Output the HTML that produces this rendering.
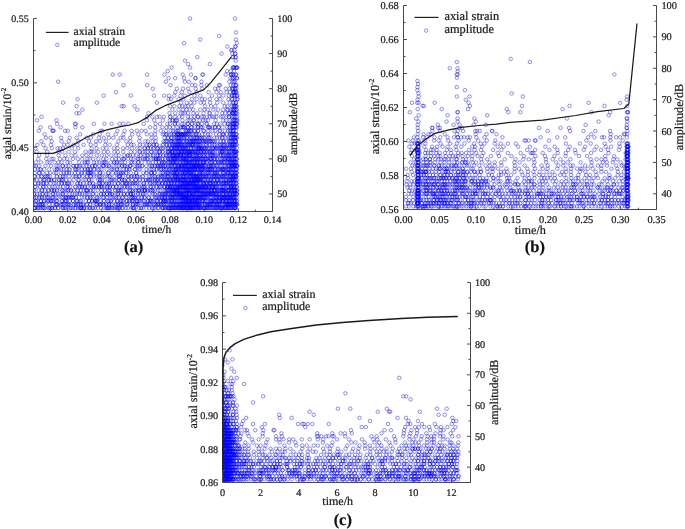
<!DOCTYPE html>
<html><head><meta charset="utf-8"><style>
html,body{margin:0;padding:0;background:#fff;width:685px;height:529px;overflow:hidden}
svg{display:block;will-change:transform}
text{font-family:"Liberation Serif",serif;fill:#1a1a1a;stroke:#1a1a1a;stroke-width:0.22px;text-rendering:geometricPrecision}
.pl{font-weight:bold;fill:#111}
</style></head><body>
<svg width="685" height="529" viewBox="0 0 685 529">
<defs><marker id="c" markerUnits="userSpaceOnUse" markerWidth="6" markerHeight="6" refX="3" refY="3" overflow="visible"><circle cx="3" cy="3" r="1.75" fill="none" stroke="#0000ff" stroke-opacity=".55" stroke-width="0.8"/></marker></defs>
<clipPath id="kA"><rect x="33.5" y="14.5" width="239.0" height="197.0"/></clipPath>
<path d="M190 18.5h45M235.9 32.5M219.2 36M200.2 39.6h35.7M184 43.1h52.8M227.3 46.6h7.9h.4M231.3 50.1h.4h2.7M221.5 53.6h10.8h2.9h.1M197.3 57.1h35.4h.2h2.5h.4M185 60.6h50.6M188.1 64.1h21.7M171.5 67.6h18.5h42.8h.2h1.1h.1h1.8h.1h.9h.2M167.7 71.1h59.4h3.4h3.5M112.8 74.6h6.9h27.4h17.4h18.2h8.3h11.5h.4h22.8h5.2h.4h.3h1.6h.2h2.5h.3M168.6 78.2h6.5h9h11.3h.2h34.7h2.2h.3h1.9h2.2h.1M58.1 81.7h107.7h19h4h12.6h27.9h3.5h1.6h0M123.5 85.2h23.7h23.3h21.5h3.3h6.1h5.6h12.1h.8h10.9h2.4h2.5h.1h.6M152.8 88.7h24.1h6.1h5.1h7.6h6.5h13h3h7.5h3.8h2.6h.9h.1h1.8h.2h1.3M116 92.2h59.3h6.5h7.6h7.3h11.8h8h4.3h5.8h3.3h3.1h.9h.2h.7h.7h.6h.3M103.6 95.7h27.2h23.2h10.2h4.7h5.4h6.2h4.4h9.7h5.7h11.8h7h4.2h5.6h3h.2h1.8h.3h1.2h1.5h.4M77.5 99.2h91.2h2.4h7.6h4.5h8.6h5h5.1h2.9h5h6.7h3.6h8.2h3.6h.4h2.6h2.3h.3M63.1 102.7h33.8h59.9h24.2h5.8h3.8h3.8h6.2h3.3h6.2h7.1h6.1h6.4h3.2h1.2h1.9h0M76.6 106.2h45.1h2h10.8h35.6h4.3h5h2.9h3.3h2.2h3.9h13.2h6.1h4.2h9.5h2.7h4.3h2h.2h.9h.9h0h1M82.4 109.7h54.8h35.1h6.3h4.3h3.4h3.5h3.5h7h4.2h3.2h5.7h4.7h4.9h4.3h.2h3.2h1.8h.2h1.1h.7h.2h1.8h0M76.5 113.2h2.7h69.3h21h5.7h5.6h1.9h2.2h3h5.5h3.8h6.2h6.2h.1h6.9h5.6h3h4h.1h3.1h.2h.1h.1h1.3h.4h1.1h.3h1.2M41.5 116.8h105.5h5.4h4.7h2.5h4.2h6.4h.2h4.7h4.1h3.1h5.7h2.7h3.6h3.4h.2h3.9h1.7h3.2h3.1h2.3h1.8h2.4h4.5h1.8h3.8h2.5h.1h3h1.3h1.2h1.2h1.3M37 120.3h19.5h90.4h7.3h8.7h7h2.6h.2h2.5h1.2h.4h5.6h5.2h2.1h4h.1h5.7h3.7h2.2h2.6h7.6h7.6h2.7h4.4h2.1h1h1.2h.3h.9h1.1h.3M57 123.8h18h.8h18h10.6h7.2h8h3.7h5.1h15.3h11.9h4.4h7.3h2.7h4.8h.1h3h4.4h1.8h3.6h.1h4.1h0h4.5h1.6h.1h3.7h4.8h0h7.6h2.7h3.5h4.1h3.3h.3h1.7h2.4h.1h.8h.1h.7h.4h1.2h.2h1.3h0M40.5 127.3h9.6h10.5h14.8h6.9h67.8h5h7.2h4.1h3.3h3.4h4.3h3.4h.4h1.7h0h1.3h.2h3.3h.3h3.2h.2h3.4h3.1h.2h2.8h.1h1.5h5.7h.2h1.2h.2h2.5h2.6h.3h3.3h.2h3.7h4.9h2.2h.3h2.5h.5h.2h.9h.4h1.4h.2h.9M38.9 130.8h13.6h.3h.9h11.4h2.6h32.9h1.7h15.1h7.2h7h5.2h4.8h3.9h9.9h5.5h5.1h4.7h2.4h2.7h1.7h.3h1.5h6.3h.4h1.3h.2h1.7h.3h1.4h.3h3.2h.2h3.4h.2h5.3h.3h4.2h4.5h2.5h4.7h.3h4.8h3.3h1.9h.4h1.9h.7h.1h1h2.1M44.5 134.3h35.6h13.1h6.5h8.3h7.8h7.6h8.7h6.2h8.6h4.4h3.6h7.9h1.5h2.1h.1h2.8h1.9h2.6h.2h1.5h1.6h.2h.7h.1h1.1h.1h1.7h.2h.3h.2h1.1h.2h.6h.1h1.1h.3h1.1h1.3h.3h1.6h0h2.1h1.9h2.2h.8h.3h2.1h3.4h3.1h2.8h2.3h5.7h3.4h3.2h.2h.9h2.9h3.3h.2h1.4h.3h1h.9h.3h1.3h1h.1M45.9 137.8h4.6h10.6h8.5h7.1h10h4.1h8.1h4.8h5.3h4.3h7.3h2.8h6.7h9.6h11.8h4.1h8.9h3.3h.3h3.2h.4h2.5h2.1h.4h1.1h.3h.8h.3h1.5h.9h1.8h.2h1.1h1.9h.4h3.5h.3h1.5h1.3h1.7h1.3h.5h.2h2.2h.1h1.9h0h2h1.4h3.5h.3h1.5h4.2h2.5h2.8h2.5h0h3.6h2.4h1.8h1.2h.3h1.6h.2h1.1h.3h.4h.3h1.1h.1M41.4 141.3h10.2h10h7.2h9.6h10.6h7h4.2h5.6h12.5h8.1h3.9h9h6.1h2.4h4.8h2.9h8.1h2.1h.1h1.3h3.4h.3h.5h.9h1.6h1.6h1.1h1.3h.3h1.2h.1h.5h.7h2h1.6h1.9h.7h.3h1.5h1h1h1.3h0h1h.3h.9h.3h1.4h.1h1.7h.1h1.3h.8h.1h2h1.4h0h1.5h.2h1.5h.2h2.3h.3h1.5h.1h1.8h.3h1.6h2.9h3.1h2.9h.1h2.6h3.5h0h1.3h.2h1.1h1.9h1.2h0h.3h.3M37.3 144.8h6h7.7h13.1h3.4h6.2h3.7h6.2h7.1h5h9.6h4.4h7.3h10.9h3.4h2.4h6.4h2.7h4.4h2.2h.1h4h.4h2.6h.2h5.9h.6h3.5h.2h2.4h.2h2.8h.4h1.3h.3h.9h.4h1h.2h1.2h0h.9h.9h.2h1.1h.2h1h.2h1.6h.4h1.3h1.4h.2h.5h1.2h.3h.8h1.2h.4h.7h0h.7h.1h2h.4h1.5h1.2h.2h1.1h.4h1h3.5h1.5h.2h3.2h.4h2.3h2.2h.3h2.1h2.6h1h.3h1.7h1.2h.4h1.5h2.2h.1h2.2h0h1.8h.3h.1h.3h1.1h.4h.7h.3h1.3h.3M35.5 148.3h10.1h6.2h5.8h2.6h2.8h8.8h6.4h13.3h5.2h6.1h3.8h7.3h3.6h5.6h4h4.8h5.4h2.4h5h0h3.1h.2h2.6h2.8h.3h3.8h.2h2h1.5h1.5h3h1.9h.3h3h.2h.8h.3h2h.4h.6h.9h.2h.6h.1h1.2h1.3h.3h.6h.1h1.8h.3h.9h.3h1.2h.2h.4h.1h1h1.2h2.8h.5h.3h1.6h1h1.5h1.7h1h.1h.2h.2h.3h.2h1.2h0h1.1h0h1.1h1.2h.3h1h.1h1.9h1.6h.4h2.1h1.6h.4h1.3h1.3h.4h.7h.8h2.5h.3h1.2h.3h1.4h0h.6h1.8h0h1.5h.3h1.7h2h.4h.7h0h.9h.2h.9h2.3M36.6 151.8h10.6h11.3h3.8h6.2h6.5h10.6h4.1h1.8h2.5h4.3h5.7h3.9h6.4h3.6h5.2h7.6h4h4.8h.4h3.1h1.9h2.7h3.6h0h4.1h1.5h2.6h.3h2.9h.3h4.9h.2h.4h1.1h.2h2.1h.4h0h.3h.7h1.3h1h1.6h1h.7h0h1.2h1h0h.9h.2h.4h1.5h.4h1.1h.4h1h.4h.3h.6h.4h.2h.2h1h.2h.5h1h.2h1.1h.1h1.4h.2h1h0h1.2h1.1h.1h1.4h1.3h.1h1h1.6h.5h.1h1.8h1.4h.1h1.6h1h.4h1.3h1h0h1.6h3.6h2.2h.2h1.6h.2h.1h.4h1.4h2.2h.8h1.4h.7h.4h.8h1.4h2.2h.2h.5h.4h0h.4h.6h.2h.6M39.1 155.4h8h11.6h6.7h6.2h3.8h6.9h4h4.4h6.1h5h4.9h4.5h4.7h2.8h5.7h3.2h.3h2h3.2h3.4h4.1h.3h4.3h2.2h.1h3.1h2.5h.2h4.3h.2h2h.3h3.4h2.4h.2h1.5h2h.4h1.8h.4h.7h.1h.7h.3h.9h1.3h.1h.6h.1h.8h.4h.4h1.3h.3h.3h0h1h2h.3h0h.1h1.5h.3h1h1.6h.2h.6h.1h.6h0h.8h.1h2.3h1.6h.8h.3h1h.1h1.5h.8h1.2h.2h2h1.1h.2h1.7h2h.2h2.6h.3h1.1h.3h1.4h.1h1.8h.8h1.9h2.3h.2h.8h1.8h.2h1.8h1.4h.3h1.4h.2h1.1h.4h1.4h.6h1.6h.8h.4h1h0h.5M38.3 158.9h8h5.2h1.9h6.5h4.3h2.9h5.9h4.8h4.5h5.1h2.1h3.7h5.1h5h3.1h5.7h3.8h2.9h3.7h1.3h0h4.2h3.2h2.2h4.4h.1h1.7h3.5h1.5h.3h2.2h.3h3.9h2.1h2.2h.3h.2h.4h1.4h.3h1.7h2.4h.2h2.7h2.8h.1h1h.9h.6h0h2.4h.2h.7h.4h.3h.2h.4h.2h1.2h.2h1.6h.8h.9h.7h.6h1.4h.4h.2h.8h.2h.2h.3h.8h0h.3h.3h1h2.5h.2h1.3h.3h.6h.8h.8h.4h1h.4h.9h0h1h.5h1.1h.3h1.1h.3h.8h0h1.5h1.5h.8h.2h.8h.3h1.2h2.1h.1h.9h.2h.8h2.3h.2h.9h1.9h0h3.1h1.7h1.5h0h1.2h.1h1.3h1.7h.1h1h.3h1h.3h1.5h.2h1.1h.2h1.5h.5h1h.3M36 162.4h5h6.5h2.1h5h3.8h3.2h6h2.3h9.2h5.5h.4h1.9h1.1h6h2.5h3.1h2.8h1.9h.4h1.4h4.4h3.7h.1h2.5h0h2.9h1.7h3.7h5.8h1.3h2.4h3.5h.2h3.5h6.3h1h3.9h2.7h3.2h.2h2.9h.1h1.6h.1h1.6h2.8h0h1.5h1h1.2h.9h0h.9h.2h1.6h.2h1h1.7h1.7h.3h1.2h1.7h.2h1.1h1.1h.1h.5h.8h.6h.8h.2h.5h.3h.5h.4h1.4h.5h1.5h.4h.9h1.4h.1h.3h.2h1.2h.2h1.8h.1h2.5h.1h.9h.2h.7h1.4h.8h3.3h0h1.2h.3h2.8h.4h.6h2.7h.5h1.3h.2h1.2h.2h1.7h.9h.1h2.4h1.2h0h1.4h.8h.3h1.1h.1h1h.8h.2h.8h.7h.1h.9h.2M33.8 165.9h2.1h2.8h6.7h5.6h5.6h1.9h4.1h.2h3.3h2.3h4.9h.1h3h.3h2.6h1.2h2.3h4.2h2h3.4h.2h2.5h.1h4h3.7h.5h.2h3.3h1.8h.3h4.6h3h2.1h3.2h.3h2.5h.1h2h3h.5h.4h4.5h2.2h.2h2h2.6h.1h3.9h4h1.7h.3h2.7h0h2.3h1.3h.1h1.4h.9h.3h1.8h.4h1.8h.2h2.8h.1h2.1h0h1.1h.7h1.6h1.3h.1h1.5h1.3h0h.6h.3h1.3h.8h.5h.1h.3h0h.6h.3h1.1h.9h.4h.4h.7h.3h.4h.7h.7h.1h2.3h.1h.9h.3h.5h.3h.2h.5h.4h.3h.3h.7h.2h.7h.3h.1h.4h.6h.5h1.2h0h.7h.1h.8h.3h.2h.7h.2h.9h1h1.1h.9h2.3h.3h.7h1h.8h0h1.7h.2h1.5h2.1h.1h1.4h2.5h1.8h2h.1h2h1.6h.1h.5h.3h1.6h.8h.1h.7h.1h.1h.2h.7h.2h.7h.2h.5h.2h1.3h.2h.3h.1M35 169.4h3.2h2.2h.3h3.4h5h5.6h2.1h.1h1.7h2.7h2.5h2.7h2.8h.3h5.7h.1h1.3h1.7h3.4h3.1h.3h2.6h.1h2.2h.1h3.8h.4h3.4h1.7h2.1h5h5h0h1.8h3.5h.2h2.4h4.2h2.7h.4h2.5h.2h5.3h.3h3.9h1.2h6.2h3.2h1.9h2.3h2.9h0h2.6h1.7h.2h2.6h.2h1.8h.1h2.8h1h.2h1.3h1h1.7h1.5h.1h.4h.2h.6h.3h1.1h.1h1.1h1.7h0h.6h.3h.8h.8h1h.9h.7h.2h0h.4h.9h.1h1.1h.1h1.1h.3h.5h.3h.9h.9h.2h.9h.6h.3h0h.4h1.6h.2h.7h.1h.7h1.8h.3h.3h1.1h.1h.5h.1h1.4h1.4h0h1.5h.8h.2h1.4h.3h.7h.2h1.2h0h1.4h1.8h.2h2.3h1h.2h1.6h.2h.9h1.1h.1h.7h.1h.7h.8h1.4h1.4h.3h1h.1h1.5h.4h1.4h.2h.4h1.8h1.2h.2h.4M34.9 172.9h4.2h.3h3.3h4.5h3h4h1.9h4.8h2.7h2.8h.4h2.2h2.7h3.4h3h3.6h.1h2.7h3.3h.3h1.4h.2h1.2h.2h1.4h4.1h3.3h.4h2.5h5.4h.3h4h3.7h.3h1.9h2.7h.4h1.4h.1h3.2h0h4.6h5.4h.1h7h3.2h0h4.4h.5h.2h2.8h.3h6h1.9h.3h2.8h1.5h.1h.8h.2h3.5h.2h1.2h.1h.9h1.2h.1h1.2h.2h.5h.1h2.1h1h1.4h.6h.3h1.4h.4h.2h.2h.2h1h1h1.4h.6h.4h.2h.6h.2h.5h.3h.9h1.2h.9h1.6h.7h2.7h.2h.7h.3h1h.1h1h.3h3.6h0h1.3h.2h.8h1.6h1.3h1.6h1.3h.4h.3h.4h1.2h.4h2.3h3h.5h1h.1h2.5h.8h.3h.4h.2h1.6h1.4h.2h1.1h1.1h1h.4h.3h1h0M34.5 176.4h.2h3.3h3.5h.1h3.8h.4h1.7h.2h2.3h6.8h.2h3.2h2.7h.3h1.9h3.9h4.2h2h1.2h2.7h.2h3.2h4.3h.3h3.5h.3h3.3h2.1h3.2h.1h1.9h3.8h2h2.2h.2h4.6h4.5h.1h.8h.3h3h5.1h.3h3h.1h2.6h.3h2.6h.1h1.9h3.8h0h6.2h1.4h2h2.1h.3h3.2h.3h2.1h1h1h.3h1.9h.2h2.4h.3h1h.2h2.1h1.4h1h1.7h.4h0h.2h.8h.4h.2h1.4h.1h1.2h.3h1.5h1.5h.1h.5h.4h.6h.2h1.7h.3h1.2h1.4h.1h.7h.1h.8h.2h1.4h.4h1h.3h.1h.8h.7h.1h0h.3h.4h.1h.9h.7h1h.5h.3h1.2h0h1.1h.8h.3h1.4h.5h.1h1.1h.3h1.8h.2h2h1.3h1h.2h.8h.1h.7h1.6h.3h1.2h.8h.4h1.3h.8h1h.2h.9h.3h1.5h.2h1.2h1.4h1.6h.2h.3h1.4h.1h1h.3h.5h.3h.5h.1h.9h0h.4h.3h.4M33.5 179.9h3.3h3.5h3.2h.7h.3h4.4h.1h1.9h.4h2.8h.2h4.8h.1h2.3h.1h1.5h3.1h3.4h4h4.9h.1h4.8h1.9h3.7h.1h2.4h6.4h1.8h.4h2h2.4h5.4h1.6h.1h2.3h1.8h3h.3h3.1h.2h2h.2h3.8h0h3.6h3.7h.3h3.7h.3h3.1h2.8h.3h2.3h0h1.7h.3h2h2.4h.3h1.7h.2h1.4h2.6h.3h2.6h1.2h.4h1h.2h2.2h.8h.3h1h.1h1.7h.2h1.1h1.1h.1h1.6h.1h.5h.3h.2h.3h.4h.8h1h.2h.9h.6h.7h.3h.6h0h.8h.8h.9h.2h.8h.2h.8h.1h1.1h1.6h.6h.4h.1h0h.6h1h.2h.1h0h1h.4h.7h.4h.2h.9h.3h.2h.5h.1h.4h.4h.2h.1h.6h0h1h2h.4h.7h1.1h2.4h.2h1.6h.3h1h.3h2.2h.3h2.8h.1h.9h0h1.6h1.6h1.2h1.6h1.8h.4h.4h1.6h1.4h.3h.7h.1h1h.4h.6h.5h.4h1.1h.4h.9h1.1M35.3 183.4h2.9h.2h2.4h2.4h.3h2.9h.2h3.8h3.7h1.9h2.4h3.3h0h3h.4h2.3h.1h1.5h2.9h5.5h.1h2.6h.1h3.2h3.6h2.4h.3h3.3h.2h5.2h1h.4h2.7h.1h3.9h.2h1.9h.4h3h2.5h3.5h.1h4.1h.3h2.9h.2h1.3h.2h2.4h1.8h1.5h.3h2h.4h1.7h2.6h4h.2h2.5h3.6h.4h2.2h1.8h.3h2.3h1.7h0h3.1h.3h.8h2.5h.3h2h.3h1h1.6h1.1h0h2h.1h1.2h1.6h.2h1.2h1.8h1.1h.2h.7h.4h.8h.2h.7h.8h.2h.5h.3h.9h.2h.2h1.1h0h.6h.3h1.1h.1h.2h.1h1h.1h.9h.3h.6h.2h.8h.3h.8h.2h.8h.1h.5h.1h2.1h.9h.4h1.9h.9h.1h.4h.3h1.3h.3h.8h.4h2.3h.3h.5h0h.9h.3h1.6h1.3h.2h1.3h.3h1.7h.3h1.1h.1h2.3h.8h.8h.3h.8h.1h1.4h.2h.3h.2h1.3h1.5h.3h1h.3h.4h1.5h.6h.2h1.1h1.2h.5h.3M35.1 186.9h.4h4.5h3.3h.2h2.3h3.6h3h2h3.8h2h2.9h4.4h.2h2.5h5.2h.1h4.2h.3h2h.3h2.5h.1h2.6h3.9h2.3h.1h2h.2h3h.2h1.9h.3h1.1h1.8h3.1h.1h2.2h.1h3.2h.1h3h.4h3.2h2.2h2.3h.4h2.7h.3h2.1h2.6h4.3h2.4h2.8h1.5h.3h1.1h2.8h3.3h.2h2h3.6h.1h2.3h1.4h.2h3.5h.1h.7h2.4h.2h.6h.1h1.5h.2h.3h.4h1.1h0h1h.9h1.2h1h0h1.2h.5h.3h.7h.1h1h.2h.1h.3h.4h.8h.4h.8h.1h.1h.2h.7h.3h1h.3h.8h.1h.4h.8h.3h.2h.7h.9h0h1.3h.3h.6h1h.3h.8h0h.6h.3h.1h.4h.9h0h.4h.1h.3h.1h1.1h.3h.4h.9h.2h.1h.2h1h0h.7h.2h.6h1.2h.3h.9h.1h.6h.2h.2h.2h1.4h.3h1.5h0h1.5h1.1h.3h.1h0h.7h1.4h.3h.9h.4h.9h2.5h.8h1.7h.4h1.1h.2h2.4h1.8h0h1.8h.8h.4h.2h.4h.3h.8h.4h.8h.2h1.1h1.4h.2M33.7 190.4h0h4.9h3.3h.1h3h3.4h.3h3.1h.2h2.2h0h2.7h.3h5.2h.2h1.7h2h1.9h0h2.7h.4h2.5h3.6h.4h3.2h2.4h2.9h.2h.6h.4h3h.2h2.3h4.8h3.7h3.3h.1h3.6h1.1h0h5.5h.2h2.5h1.4h.1h1.7h.2h4.8h4h.1h1.6h1.6h2.4h.2h2.1h1.2h.3h2.5h.1h2.4h.2h.1h.4h2.2h.2h3.1h0h1.7h.4h2.1h3.2h1.9h3.6h1.4h1.7h.1h1.2h.1h1.1h.2h2.4h0h.8h.1h.9h.4h.2h.3h.7h.9h.3h.1h.5h.2h.6h.1h.6h1.1h.4h.7h.1h1.5h.6h1.1h.4h.3h1.1h0h.6h.4h.6h.1h.8h.3h.5h.2h.6h0h1.1h.2h.4h1.3h.7h.8h.8h.2h.3h0h.3h.3h.5h.6h.6h.1h.5h.1h1.3h.8h0h.9h1h.2h1.1h.2h1.2h.9h.3h1.3h.1h1.3h.1h1.4h.3h.5h.3h1.7h.4h.7h.3h.2h.3h1.6h.3h1.4h.4h1.4h.2h1.1h.4h.5h0h.7h.2h.2h.3h.9h1h1.7h.3h.8h0h.5h.4h1.4h0h1.1h1.2h0h.8h.2h.2h.2h.2h.6h1.3h.2M33.8 194h.6h2.7h2.5h3h0h3.7h0h2.3h4.3h.3h2.1h2.9h2.2h2.1h.3h2.9h3.9h2.7h2.3h2.3h2.6h.1h2.8h2.5h2.2h1.6h4.2h.4h3h4.7h.2h2.4h.2h3.1h.4h2.7h.2h1.7h.1h4.3h1.6h.1h3.2h2.5h.3h3.4h.2h2.7h.7h.1h1.7h.3h5h.1h2.2h2.8h.1h1.8h4.2h3.6h1.8h.2h3.9h1.2h.3h2.1h.1h1.6h.3h1h.1h1.2h1.2h.8h.8h2h.2h.9h.3h.5h.3h1.4h1.1h.1h.5h0h1h.6h.2h.7h.3h.4h.1h.3h.3h.7h.2h.5h1.2h.5h.2h.9h.1h1h.4h.3h1.8h.4h.1h.3h.6h.2h.4h1.1h.3h1.3h.2h.5h.3h.9h.7h.7h.8h1.2h.8h.8h.5h.2h1.3h.4h.6h.3h.8h.2h.6h.8h.1h.9h.1h.9h.2h.6h0h1.6h.2h.9h.2h.5h.3h.8h.3h.6h1.4h0h.8h.4h1.1h1.2h.3h.4h.9h2h.2h1.4h.2h1.8h0h.5h.4h1.2h1.3h.9h.1h1.2h.5h.8h.1h1.3h.2h.7h0h1.1h.6h0M34.1 197.5h.1h2.1h2.9h.2h2.3h.4h2.3h2.4h1.3h.4h3.4h.9h.4h3.4h1.7h3.5h1.3h2.4h.4h.4h1.2h1.3h.3h2.2h.2h1.4h.1h2.9h.2h5.9h2h3.3h.1h2.9h.3h1.9h4.5h.4h1.9h4h.2h3.5h.2h4.3h1.3h1.6h1.8h2.4h.2h3.6h.3h3.4h.3h4.3h.1h1.6h.1h2h0h1.5h2.1h3.6h.1h2.6h.4h3.6h.2h3.4h3.1h1.3h.3h2.2h.4h1.9h.4h1h1.6h.4h.3h.3h2.7h.3h1.6h.5h1h.4h.3h.8h.3h1.4h.3h.4h.9h1.4h.1h1.4h.5h.1h.8h.4h.2h1.4h0h.7h.3h0h.4h.2h.6h.4h.3h.1h.1h.1h.1h0h.8h.1h.4h.8h.3h.7h.3h.9h1h.2h.5h.3h.4h.9h.5h.3h1.2h.2h.5h.3h1.1h.7h.2h.2h.8h0h.1h.2h.4h1.2h.1h1h.5h.8h.3h1h.3h.4h.7h1.1h1.2h1.7h.1h1.2h2.6h.5h1.2h0h.1h.4h.7h1.9h.4h.2h.7h1.3h0h.9h.1h.4h.3h.6h0h.9h0h1.7h.2h.5h.1h.9h.2h.7h.1h1h.4h0h.4h1.5h.1h.6h.2h.5h.1h.9h.9h1.2M35.7 201h.2h1.3h3.5h.4h3h.2h2.3h1.8h0h2.3h.2h.5h1.5h2.6h1.2h.4h4.8h.5h2.3h.2h1.2h.1h3.6h3.2h.1h3.8h.1h1.7h1.8h.2h5.1h3.1h.2h3h.2h2.5h.1h.7h.4h1h.3h3.2h3.3h.1h3.9h1.2h1.6h.3h3.6h2.6h.3h3.4h.1h1.7h.1h4.1h.1h2.3h.1h2.4h.9h.4h1.6h2.4h0h2h.4h1.5h2.4h1.2h3.4h.1h2h.3h1.3h.1h2h2.8h.2h1.2h2.8h.2h1.9h.3h.9h.2h.8h0h1h.4h1.6h.7h1.8h.2h1.3h.1h.4h1.4h1h.8h.9h.8h1.5h1.4h.8h.4h1.1h0h.8h.1h.9h0h.9h.4h.2h.6h.9h.5h.1h.1h.3h.5h.1h.6h.2h.5h.9h.7h.2h1.1h0h.6h.1h1h.2h.8h.6h.1h.2h.4h1h.1h.8h1.1h1.4h.6h.5h.2h1.6h.3h1.4h1.3h2.3h.8h.2h.7h.2h.5h.4h1.2h0h1.3h.3h.8h2h.4h.1h.4h1.2h.1h1.2h.9h.2h.5h.1h1.7h.9h0h1.4h.1h1.2h.3h.7h.4h.6h1.2h.9h1.2h.5h.2h.3h.2h1.5h.3M35.7 204.5h.1h2.2h1.8h.3h1.3h.4h1.2h.3h2.1h3.9h3.4h3h.4h.9h.1h3.5h.1h1.5h.3h1.5h2.5h1.3h.1h1.3h0h4.5h.1h2.2h.3h1.9h0h2.7h.2h1.8h.3h3.4h.4h3.2h.1h5.2h1.3h.1h2.8h.1h.9h.3h2.4h.2h2.5h.4h2.3h.2h2.7h0h4.3h.2h1.9h.1h2.1h.8h.2h1.4h2.5h1.6h.2h3.4h2.4h0h2.9h.1h1.2h.4h1h4.4h1.6h.7h.1h1.7h.2h1.9h.3h1.1h3.4h0h1.7h.1h1.8h.9h.2h1.3h1.2h.2h.3h2h.2h1.5h1.4h0h2.1h1.7h.2h.8h.2h1.2h.3h1.1h1.4h.4h.4h.9h.1h.9h1h.6h.2h.1h.2h1.5h0h.6h.8h.6h.4h.5h.3h.5h.8h.1h.4h.1h.8h.1h.8h.2h.9h.3h.7h.4h.8h.3h.2h.1h1.2h.2h1.1h.3h.4h.3h.5h0h1h.1h.4h.2h.8h0h1h.3h1.7h.4h2h.6h.1h1.7h.2h.7h.3h.8h.5h.4h.1h1.1h.1h1.3h1.2h.1h1.1h1.7h0h.3h.3h1.1h.1h.5h1h.1h1.9h1.7h1h.6h.5h.6h.3h.3h.5h.2h.3h.4h.9h.2h.3h.8h0h.8h.4h.6h.8h.3h.1h.6h.4h.5h0h.2h.4h.5h.2h.9h.1M34.3 208h.1h.7h.4h2.1h.4h1.2h1.4h2.1h.3h1.5h.1h3.9h.1h1.6h.4h1.5h.1h2.7h.3h2.9h0h4.4h.4h.9h1.5h.1h3.3h1.9h.1h2.3h2.3h.2h2.7h1.8h.5h.3h.9h.2h2h.1h2.5h2.2h1.5h0h2.6h.1h2h3.1h2.9h3.5h2.1h.1h1.1h.4h1.2h.3h2.3h.2h2h2.2h.1h1.3h.4h1.4h0h2.8h.2h3.4h1.9h3.6h1.3h.4h.8h.1h5.1h1.8h.2h1.6h3.8h2.7h3h.2h1.4h1.8h2.4h.3h3.7h.3h.8h.4h1.6h.3h1.9h.2h.8h.1h.7h.1h1.3h.4h.4h.4h1h.3h.4h1h.1h.9h.3h.6h1h.2h.6h.3h.7h.6h.2h.2h.4h1h.3h.5h.4h.1h.4h.1h.3h.2h.4h.6h.6h.3h.9h.3h.2h.4h1h.3h.6h.2h.1h0h.6h.3h.5h.3h.2h.1h.9h.2h.3h.4h1h.1h1.2h.3h.4h1.3h.4h.3h.1h.2h.4h.9h.1h.7h.2h2.3h.2h.6h.3h.7h.4h.8h.1h.8h.2h1.2h1h.7h.4h1.4h.7h.3h1.5h.3h.8h.4h.6h.3h.9h1.4h.3h1.2h.2h0h.3h.8h.2h.7h1.5h.5h.1h.3h.3h.8h1.1h.1h.9h.6h.3h.7h.6h0h1.4h1.1h.8h0h.7h.1h.7h.2" fill="none" stroke="none" clip-path="url(#kA)" marker-start="url(#c)" marker-mid="url(#c)" marker-end="url(#c)"/>
<path d="M33.50 18.50V211.50H272.50V18.50" fill="none" stroke="#4a4a4a" stroke-width="1"/>
<path d="M33.50 211.50v-3.2 M67.64 211.50v-3.2 M101.79 211.50v-3.2 M135.93 211.50v-3.2 M170.07 211.50v-3.2 M204.21 211.50v-3.2 M238.36 211.50v-3.2 M272.50 211.50v-3.2 M50.57 211.50v-1.8 M84.71 211.50v-1.8 M118.86 211.50v-1.8 M153.00 211.50v-1.8 M187.14 211.50v-1.8 M221.29 211.50v-1.8 M255.43 211.50v-1.8 M33.50 211.50h3.5 M33.50 147.17h3.5 M33.50 82.83h3.5 M33.50 18.50h3.5 M33.50 179.33h2 M33.50 115.00h2 M33.50 50.67h2 M272.50 193.95h-3.5 M272.50 158.86h-3.5 M272.50 123.77h-3.5 M272.50 88.68h-3.5 M272.50 53.59h-3.5 M272.50 18.50h-3.5 M272.50 176.41h-2 M272.50 141.32h-2 M272.50 106.23h-2 M272.50 71.14h-2 M272.50 36.05h-2" fill="none" stroke="#4a4a4a" stroke-width="1"/>
<g font-size="10.0"><text x="33.50" y="223.30" text-anchor="middle">0.00</text><text x="67.64" y="223.30" text-anchor="middle">0.02</text><text x="101.79" y="223.30" text-anchor="middle">0.04</text><text x="135.93" y="223.30" text-anchor="middle">0.06</text><text x="170.07" y="223.30" text-anchor="middle">0.08</text><text x="204.21" y="223.30" text-anchor="middle">0.10</text><text x="238.36" y="223.30" text-anchor="middle">0.12</text><text x="272.50" y="223.30" text-anchor="middle">0.14</text><text x="28.80" y="214.95" text-anchor="end">0.40</text><text x="28.80" y="150.62" text-anchor="end">0.45</text><text x="28.80" y="86.28" text-anchor="end">0.50</text><text x="28.80" y="21.95" text-anchor="end">0.55</text><text x="277.20" y="197.40">50</text><text x="277.20" y="162.31">60</text><text x="277.20" y="127.22">70</text><text x="277.20" y="92.13">80</text><text x="277.20" y="57.04">90</text><text x="277.20" y="21.95">100</text></g>
<clipPath id="kB"><rect x="403.5" y="1.5" width="253.0" height="208.0"/></clipPath>
<path d="M510.7 58.9M456.8 62h73.1M449.8 68.3h7.7M457.7 71.4M456.8 74.5h.8h156.8M456.8 77.7M417.4 80.8M418 84M417.5 87.1h39.3M417.4 90.2h47.5M418.4 93.4h93.3M418.7 96.5h38.1h12.7h53.3h104.2M417.5 99.7h48.3h160.9M412 102.8h5.2h1.4h16h34h120h31.6M422.5 105.9h1.3h46.1h52.1h47.5h35h22.7M417.7 109.1h24h26.1h38.9h55.8M409.8 112.2h47.7h.2h50.7h11.9h71.1h18.7h16.9h.8h.2M418.7 115.3h28.8h39.7h121.5M416.1 118.5h41.4h16.8h92.5h60h.3M418.5 121.6h28h11.1h18.1h122.9h28.6M417.7 124.8h20.2h15.7h5.9h14.2h12h99.9h41.1M417.7 127.9h14.4h.3h5.8h1.6h19.7h2.6h76.9h21.5h8.5h57.5h.4M418.2 131h14.1h7.8h14.5h3h5.5h12.1h1.8h2.7h12.3h.3h55.3h22.4h13.5h11.8h14.8h17.2M417.6 134.2h6h5h2.2h13.9h12.3h18.7h10.9h9.8h94.8h19.6h13.2h.7h2.5M413.9 137.3h3.5h5.7h3.9h7.4h5.9h7.2h6.5h3.7h.1h3.4h2.8h3.7h2.2h6.4h8.2h17.9h38.2h16.6h8h22.9h6.3h7.6h2h6.4h5.8h3.9h6.8M408.3 140.5h4.5h4.9h1.2h5.9h9.2h4.6h9.5h10.6h10h9.5h8.6h8.5h29.4h1h2.9h6.4h.5h13.4h37.5h24h12.4M411.6 143.6h3.2h1.9h.4h.4h.3h.5h1.9h5.2h15.2h9.7h6.6h7.5h9.8h6.6h3.7h10.1h6.1h7.2h7.8h50.2h13.9h10.9h14h14.7h7.3h.2h.7h.5M409.3 146.7h8.5h.3h.1h.1h6h7.8h4.9h5.6h5h8h5.7h11h2.7h6.9h15.8h5.9h14.6h11.7h15.5h9.3h15h15.5h11.4h9.1h5.3h8.8h6.8h.3h.4h.2h.3h.1h.3h.1M411.5 149.9h4h1h.6h.1h.1h.2h.3h.5h.8h6.8h5.3h2h3.5h10.2h3.8h5.7h12.6h5.6h6.3h12.2h8.3h25.7h8.1h14.3h7.9h10.8h6.7h8.9h10.7h6.5h7h10.9h7.9h.4h.1h.2h.5h.1M410.7 153h6.6h.3h.2h.1h0h.2h.4h1.1h5.6h2.7h2.7h5.6h3.5h5.2h6.2h7.1h3.4h4.5h5.6h4.6h7h14.4h10.1h12.8h10.1h1.4h1.2h9.3h15.1h8.1h9.8h15.5h17.5h17h1.1h.1h.1h.1h.3h.4h.2h.1h.3M411.9 156.1h5.3h.4h.1h.3h.6h7h5.4h3h4.2h2.1h5.5h3.7h3.5h2.6h2.6h4.3h5.5h4.3h5.4h4.2h9h8.2h12.3h12.4h11.7h9.6h9.4h11.1h13.4h8.1h18.2h8.8h12.2h.7h.1h.2h.2h.1h.1h0h.2M413.9 159.3h3.1h.4h.4h.6h1.1h3.7h2.5h.3h3.8h.2h5.2h3.2h2.5h3.1h1.2h3.5h2.9h4.8h.3h6.2h2.9h6.1h9.2h6h17.6h10.8h7.9h5.5h4.8h12.2h6.8h7.7h10h20.3h5.9h4.9h3.9h8h3.8h8.3h1.3h.2h.1h.3h.6h.2M410.6 162.4h5.2h1.8h.2h.6h.3h4.7h3h3.9h.2h4.4h5.8h3.9h4.3h5.7h2.6h4.8h.3h3.1h.1h2.3h4.8h3.3h5.8h7.7h5.3h6.4h13.3h5.2h14.9h11.6h10.1h7.1h4.3h13h11.1h11.1h4h6h7.8h6.3h.2h.2h.4h.3h.2h.2M412.4 165.6h2.6h2.3h.2h.1h.5h.6h2.1h2.4h1.6h1.5h.6h1.2h1.9h4.2h.2h4.4h.1h2.6h3.1h3.8h3.1h.2h2.7h1.6h.2h3h5.3h2.4h1.9h5.3h5.2h6.3h4.2h4.9h6.9h13.3h9.8h9.1h7.7h6.3h10.5h4.9h7.3h2.4h12.2h6.2h6.6h3.5h5.6h9.2h5.6h2h2.9h0h0h.2h.4h.2h.1h0h.5M406.1 168.7h4.8h6.2h.4h.4h.5h.1h3.4h3.5h4h3.5h3.1h2.8h1.2h.2h4.2h.3h1.9h.2h1.6h3.8h2.1h3.1h1.9h3.3h.2h8.2h1.6h7.8h6.8h4.3h1.4h5.1h8.5h8.1h4.4h8.4h7.7h7.8h4.8h9.4h8.6h5.3h6.1h3.5h1.6h5.6h5h8.4h10.2h5.9h8h1.4h.1h.2h.3h.2h.2h.2h.1h.2M411.7 171.8h5.3h.2h.5h.1h.2h.5h.1h2.2h.4h1.2h1.4h1.6h.1h.6h.3h2.4h3.3h3.9h3.2h4.3h2h.4h1.8h.4h3.1h3.4h3.5h.1h3.6h1.3h.3h.7h2.9h.3h3.8h3.3h.2h3.3h3h.2h6.3h5.4h8.2h3h3.4h7.2h6.9h6.5h5.3h6.4h7h5.8h9.5h4.1h4.7h9.2h5.3h10.3h5.7h4.6h12h5.9h3.1h.1h.6h.4h.2M407.5 175h5.6h4.3h.6h.2h.1h.2h2.6h2.7h.2h1.9h3.9h3.2h3h4.2h.3h3.5h1.2h2h3.7h0h5.1h2.2h.1h1.9h3h.1h2.2h3.7h6.3h4h9.4h2.8h7.1h2.3h5.1h4.9h11.4h5.3h6.6h4.7h4.1h6.5h5h5.5h4h6.7h7.5h7.8h3.9h6.3h13h8.3h3.7h5.1h.2h.2h.2h.7h.2h.1M407.9 178.1h9h.6h.2h.2h.4h.2h.4h2.6h.3h4.1h1.7h.1h1.9h.3h2h2.1h.3h2.1h2.8h1.8h.3h1.6h.3h1h1.4h1.2h2.2h.2h3.2h.1h2.3h1.3h.6h2.8h.3h3.5h.1h1.2h2.2h4h2h2.5h4.7h3h3.5h6.8h.2h4.3h9.2h2h8.5h7.1h4.5h5.4h7.1h2.7h3.1h3.3h4.1h11.5h5h4.5h2.3h6.4h4.7h4.4h4.3h6.7h4.2h1.4h5h6.4h4.5h.2h.6h.2h.2h.1h.2h.1h.1h.2h.2h.4M406.7 181.3h4.9h2.8h2.6h.3h.3h.4h.4h.1h1.1h.1h4.2h1.5h.2h2.5h3.6h1.5h3.9h.1h1.4h3.1h3h2.3h3.3h3h1.5h.3h1.3h1h1.3h0h2.9h1.8h1.7h.2h1h4.9h.3h.7h2.7h3h.3h3.7h0h1.7h2.2h.3h2.2h4.9h5.3h2.2h6.4h1.1h2.1h5.2h8.7h4.1h.3h2.9h.2h7.5h3.3h3.2h6.9h3.8h5.2h4.4h4.5h2.5h5.2h3.6h5h5.3h10.3h4.6h6h6.1h3.9h3.6h.2h.3h.4h.4M406.4 184.4h3.8h3.3h3.7h.1h.3h.1h.2h.1h1.6h1.6h1.5h.3h2.8h.6h1.3h1.6h0h1.6h2.6h.1h1h.2h3.1h.2h4h.1h1.4h0h1.4h.1h2.2h1.5h1.5h2.2h2.4h1.6h.2h2.8h2.2h.2h1.6h1.9h5.4h2.8h1.7h0h3h0h3h.1h2.8h2.4h1h6.9h4.7h5.6h1.6h4.3h4.1h.4h2.5h.3h3.9h3.9h5.5h3h.3h5.2h3h4.6h7.7h5.4h3.3h3.7h5.8h0h2.3h.1h4.4h4.6h2.3h.3h4.2h2.4h5.3h2.4h6.3h5.7h.4h2.8h6.1h3.6h.2h.4h.2h.2h.2h.4h0M407.6 187.5h2.5h5.6h1.8h.4h.5h.3h4.7h1.5h1.3h.5h.9h3h2.4h.1h4h.2h2.3h0h2.6h1.1h1.4h1.6h1h4.7h2.5h1.9h.3h2h.1h1.5h1.5h.2h1.5h1.8h1.2h.4h3.3h5.2h2.6h1h.3h2.5h2.1h3.2h3.2h.2h2.5h.2h6.8h2.6h4.2h3.4h8.3h7.1h2.5h3.8h2.7h4.5h3.9h5.9h5h4h4.9h2.8h5.6h.3h2.3h3.2h4.6h3.2h3.4h2.7h6.6h.2h2h5.1h2.1h.2h4.1h.1h7.4h3.1h1.1h3.7h.2h0h.5h.3h.4M409.2 190.7h3.2h2.4h2.4h.4h.4h.2h.1h.1h0h.5h1.3h3.3h2.2h.6h1.1h1.9h.8h.3h3.2h1.8h2.8h.2h1.2h1.8h.2h2.7h.3h2.3h.4h2.3h3h2.4h.2h1.3h.8h3.3h1.4h1.4h2.7h1.9h1.6h3.2h1.8h.1h3.1h2h2h3.7h5.5h5.5h1.8h.3h3h5.7h3.8h.2h1.2h1.2h3h2.9h.1h2.4h3.6h1.9h2.1h4h5.4h3.5h4.3h2.1h1.8h5.6h2.5h3.3h3.3h2.4h2.7h4.3h.2h5.1h2.3h5.4h2.2h3.3h6.4h2.6h1.9h3.6h2.4h.2h2.1h3.6h.3h3.7h3.1h.2h3.1h.4h.3h.3h.3h.1M408.7 193.8h2.7h4.9h.6h.3h.2h.4h.3h.1h.1h0h.3h3.3h2.6h1.5h.2h.9h3h2.1h.4h.7h.9h.3h1.7h1.1h3.3h1.2h.9h0h1.3h1.7h2.2h.1h1.4h1.7h2h1.3h.3h.8h3.7h3.2h.1h1.4h3.1h3.1h2.4h.2h2.5h.4h.2h1.6h5.4h.3h1.9h.3h2.7h0h4.4h3.3h.2h3.5h3.1h2.9h3.3h3.1h1.9h2.1h2.1h3.9h3.2h0h2.7h.2h3.4h5.7h.1h1.6h0h2.2h.3h1.7h3.2h5.5h.2h1.8h0h4.2h1.5h3.7h4.1h4.5h.2h4.5h5.1h.1h1.7h3.1h4h4.5h4.1h4.1h.1h5.6h0h5.5h.2h2.3h2.2h.3h.8h1.3h5.3h.7h.3h.4h.4M405.9 196.9h7.4h3.7h.2h0h.4h.6h.3h.1h.1h2.7h4.7h2.2h4.5h1.6h.2h1.4h2.1h1.8h.2h1.8h1.5h2h1.2h3.3h2.4h.1h2.5h1.9h.2h2.4h3.2h2.8h.1h1h2h2.9h1.5h3.6h3.4h2.9h4.3h3.7h4h4.3h1.2h2.8h4.4h3.7h3.6h2.8h2.4h.3h6h2.2h.3h3.4h2.2h2.6h3.1h3h2.8h.3h3.2h0h2h4.1h2.8h.1h2.7h2.7h3.2h1.8h2h3.4h2.6h.4h3.6h2.9h.3h3.3h.2h3.2h1.8h.1h1.6h.3h5.8h2.3h3h.1h2.5h2.8h4.1h7.2h4.2h.1h.5h.5h.3h.1h.1h.1M405.8 200.1h3.6h3.6h4.1h.1h.2h.4h.1h.2h.4h1.2h.1h1.4h2.7h2.2h2.9h1.2h3.2h.6h3h.2h1.1h1.2h1.2h.2h2.3h.7h1.1h1.2h1.5h1.6h2.6h.1h1.6h2.8h.2h1.4h2.4h4.6h3.1h.1h3.3h2h.2h4.7h1.4h2.2h3.1h.3h2h2.2h.7h.1h.9h3h6.7h3.2h1.9h3.2h3.2h2.6h2.5h4h3.8h.3h3.4h2.4h3.4h4.9h2.3h.3h2.4h3.4h3h4.8h0h2.3h2.1h1.8h1.3h3.9h2.2h.3h2.4h1.6h3.2h.3h2.2h0h2.4h4.3h2.5h3.5h3.1h3.2h3.3h0h2.9h3.1h.1h3.6h.4h3h3.2h.3h3.2h3h.1h1.8h.2h.4h.5h.2h.3h.3M408.3 203.2h.1h2.2h3.3h3.2h.1h0h.3h.1h.1h.1h.1h.2h.5h3.1h0h3.4h1.2h1.2h1.3h1.9h0h2.5h.6h.1h2h.3h2.4h.2h1.5h1.8h1.7h.4h.4h.3h1.8h1.3h2.5h0h.9h4.5h2.4h.9h2.4h.9h3.6h1.3h1.8h1.7h.2h1.5h1.6h.8h2.5h3.2h1.1h2.1h5h.1h1.9h2.6h2.6h3.1h3.4h3.2h3.7h.1h2.5h3.1h1.3h1.2h2.7h4.4h3h3.4h3.2h4.4h2.3h1.1h2.2h3.9h.2h3.6h4.1h1.8h2.1h.4h2.8h2.1h2.6h3.8h6.5h2h1.7h1h3.9h2.1h2.6h2.5h0h5.5h1.3h3.2h2h1.8h.2h4.1h2h2.6h2.2h2.8h1.8h0h3.3h.1h.2h.7h.2M406.1 206.4h2.6h4.7h2.8h1.1h.4h.4h.3h1.2h2.9h.1h1.2h.2h1h.1h1.4h1.8h0h3.1h.1h1.9h3.3h1.8h.2h2.5h.9h2.3h1.7h1.8h.2h1.6h2.5h1.6h.6h1.9h.1h1h1.6h2.6h1.9h2.9h2.3h2h.2h.9h1.9h2.9h2.7h4.4h1.9h4.9h2.4h3.6h.9h.2h2.2h.1h3h.2h5.2h2.6h2.2h2.1h2.9h3.2h3.1h.3h1.1h0h3h1.3h3.3h2.4h2.4h2.8h.1h2.2h1.9h3.9h1.3h3.9h1h2.8h3h0h3.1h1.7h2.5h1.9h1.2h.2h2.2h3.2h2.4h4.2h.1h4.6h3.5h3.7h3h2.6h3.7h2.8h2.5h0h2.1h2.4h3.8h3.4h3.4h1.5h.5h.3h.4h.1" fill="none" stroke="none" clip-path="url(#kB)" marker-start="url(#c)" marker-mid="url(#c)" marker-end="url(#c)"/>
<path d="M403.50 5.50V209.50H656.50V5.50" fill="none" stroke="#4a4a4a" stroke-width="1"/>
<path d="M403.50 209.50v-3.2 M439.64 209.50v-3.2 M475.79 209.50v-3.2 M511.93 209.50v-3.2 M548.07 209.50v-3.2 M584.21 209.50v-3.2 M620.36 209.50v-3.2 M656.50 209.50v-3.2 M421.57 209.50v-1.8 M457.71 209.50v-1.8 M493.86 209.50v-1.8 M530.00 209.50v-1.8 M566.14 209.50v-1.8 M602.29 209.50v-1.8 M638.43 209.50v-1.8 M403.50 209.50h3.5 M403.50 175.50h3.5 M403.50 141.50h3.5 M403.50 107.50h3.5 M403.50 73.50h3.5 M403.50 39.50h3.5 M403.50 5.50h3.5 M403.50 192.50h2 M403.50 158.50h2 M403.50 124.50h2 M403.50 90.50h2 M403.50 56.50h2 M403.50 22.50h2 M656.50 193.81h-3.5 M656.50 162.42h-3.5 M656.50 131.04h-3.5 M656.50 99.65h-3.5 M656.50 68.27h-3.5 M656.50 36.88h-3.5 M656.50 5.50h-3.5 M656.50 209.50h-2 M656.50 178.12h-2 M656.50 146.73h-2 M656.50 115.35h-2 M656.50 83.96h-2 M656.50 52.58h-2 M656.50 21.19h-2" fill="none" stroke="#4a4a4a" stroke-width="1"/>
<g font-size="10.4"><text x="403.50" y="222.50" text-anchor="middle">0.00</text><text x="439.64" y="222.50" text-anchor="middle">0.05</text><text x="475.79" y="222.50" text-anchor="middle">0.10</text><text x="511.93" y="222.50" text-anchor="middle">0.15</text><text x="548.07" y="222.50" text-anchor="middle">0.20</text><text x="584.21" y="222.50" text-anchor="middle">0.25</text><text x="620.36" y="222.50" text-anchor="middle">0.30</text><text x="656.50" y="222.50" text-anchor="middle">0.35</text><text x="398.60" y="213.09" text-anchor="end">0.56</text><text x="398.60" y="179.09" text-anchor="end">0.58</text><text x="398.60" y="145.09" text-anchor="end">0.60</text><text x="398.60" y="111.09" text-anchor="end">0.62</text><text x="398.60" y="77.09" text-anchor="end">0.64</text><text x="398.60" y="43.09" text-anchor="end">0.66</text><text x="398.60" y="9.09" text-anchor="end">0.68</text><text x="661.40" y="197.40">40</text><text x="661.40" y="166.01">50</text><text x="661.40" y="134.63">60</text><text x="661.40" y="103.24">70</text><text x="661.40" y="71.86">80</text><text x="661.40" y="40.47">90</text><text x="661.40" y="9.09">100</text></g>
<clipPath id="kC"><rect x="222.5" y="278.5" width="248.0" height="204.0"/></clipPath>
<path d="M229.6 350.2M225 359.4h7.4M227.7 362.5M231.4 368.7M224.4 371.7h9.8M223.4 374.8M223.5 377.9h7.6h5.7h162.4M223.7 381h4.1h5.5M222.8 384h7.7h1.8h11.9M222.9 387.1h1.7h.2h1.5h5.5M223.7 390.2h.3h2.5h2.3h3M224.6 393.3h3.2h.6h4.1h112.9M224.8 396.3h.3h.9h.1h1.8h.4h1.4h.4h1.1h.3h2h29.6h140.1h3M224.2 399.4h.4h2.6h2.1h5.2h176.1M222.4 402.5h.2h3.2h.1h.8h3.3h2.9h.2h20M223.5 405.6h.1h3.5h.4h.4h1.6h3.2h.4h3.9M224.5 408.7h.4h1.3h.2h2.1h.3h3h3.7h102.4h12.4h36.5h50.2h9.7M222.5 411.7h1.7h.3h.9h2.7h.2h5.2h2.8h73.2h68.3h11.2h1.1h29.6M223.6 414.8h1h0h1.9h.4h3.1h2.9h.1h3.6h42.6h34.5h124.9h6.1M223.5 417.9h.2h.7h1.6h.2h1.8h.1h2h2.4h1.6h2.9h9.2h33.5h11.9h67.9h38h8.5h46.3M222.5 421h.4h1h.1h.3h.5h1.6h.2h.6h.4h.5h.3h2.4h2.4h2.9h7.1h126.8h38.5h9.4h35.4h2.7M222.9 424h.3h.1h0h.6h1.3h.7h.3h.4h.4h.1h1.4h1.5h.3h3h.4h3.4h4.6h11.4h11.8h33.1h4.4h1.4h3.9h4.6h16.3h59.5h19.8h2.4h11.7h12.8h17M222.8 427.1h.1h.5h.6h.2h.3h.3h.7h.4h.4h.7h.3h.3h.1h1h3.2h1.8h2.8h.4h4.3h20.6h43.4h56.5h4.1h39.4h9.9h3.7h5.6h4.7h7.5h4.4h6.4h8M222.2 430.2h.4h.8h.5h.3h.1h.5h.7h.1h.6h1h.2h.6h.1h.7h.4h.6h.1h1.5h.1h2h.1h2.2h.1h.6h1.7h6.7h2.1h8.2h8.1h10.2h.7h76.7h33.7h6.3h13.3h7.2h5.6h13.1h10.4h3.1h9.5M223 433.3h.3h.4h.1h.1h.3h.4h.1h.3h.3h.7h.4h.2h.4h.3h.4h.6h.6h.1h.5h.9h.1h.2h.2h.6h.1h1.2h.2h2.1h3.4h2.9h6.1h15.2h18.7h35.8h15.1h8.4h4.1h7.1h29.6h22.3h6.5h6.6h9.4h9.1h4.8h10.4M222.9 436.3h.6h.3h.4h.6h.3h.2h.2h.6h.7h.4h.5h.4h.2h.1h0h.2h.4h.3h.5h.8h.5h1.2h2.2h1.7h.1h4.1h8.3h14h13.2h6h35.2h1.1h3.1h4.9h2.4h3.8h1.3h11.3h26.4h5.2h17.4h9.2h6.2h6.5h5.8h6h3.5h2.9h6h3.1h9h6.2M222.9 439.4h.2h.2h.5h.2h.5h.6h.6h.3h.3h.3h.2h.1h.3h.5h.3h.2h.4h.8h.7h.1h1.2h.9h0h1.5h.2h1.8h3.9h.3h12.1h6.6h8.9h8.5h3.2h4.2h5.7h4h8.6h7.8h8.2h5.3h13.9h11.9h13.1h11.2h3.9h8.7h9.4h14.2h4.1h7.5h5.9h4.5h2.6h9.2h4.3M222.6 442.5h.2h0h.3h.1h.2h.6h.3h.2h.6h.1h.3h.4h.9h.7h.2h.7h.2h.7h.5h0h.7h.1h.7h.9h0h.8h.1h.5h1.7h.2h1.5h8.3h7.8h13.1h13.6h9.2h6.5h27.4h9.6h19h3.9h9.2h9.8h4.8h10.2h6.1h9.4h7.3h3.4h3h8.5h4.4h2.6h5.8h10.2h1.3h6.9M222.8 445.6h.1h.4h.1h.5h.2h.2h.3h0h.5h.7h.3h.2h.1h.2h.7h.3h.3h.5h.6h.4h0h.4h.2h1.9h.2h2.1h1.1h2.5h.8h.4h5.4h4.3h8.1h3.8h4.9h18.9h11.8h6.1h4.4h7h4.2h9.3h4.4h15.7h12.2h5.8h4.6h7.8h3.7h9.1h11.1h4.4h3h4.1h6h4.8h3.5h6.2h4.8h3.7h2.5h4.9h4h4.5M222.7 448.7h.2h.2h.5h.4h.3h.7h.2h.1h.3h1h.3h.1h.4h.3h.5h.4h.6h.1h.3h.4h.2h.7h0h.9h0h1.2h.7h1.7h2h.1h1.8h.4h2.5h2.5h4h10.1h5.9h5.9h5.4h3.6h5.8h4.9h12h7.5h13.3h6.7h8.1h7.7h7.5h5.5h6.5h5.4h4.3h6.8h5h6.2h6.3h5.4h2.7h5.1h.4h2.2h.1h3.1h0h2.3h5.9h2.4h2.9h.2h5.9h2.3h.3h4.1h5.5h3.3h3.9M222.7 451.7h.2h.4h.1h.5h.2h.1h.3h0h.5h.1h.4h.1h.6h0h.4h.2h.4h.3h.4h.1h.4h.5h.6h.2h0h.2h.3h.2h.5h1.3h.1h.8h.4h1.3h.3h.6h2.4h1.2h1h4.7h3.1h5.7h4.6h3.7h9.8h5.7h4.8h2.5h8.5h7.2h7.1h5.2h2.9h8.4h5.8h7.2h4.2h10.7h6h12.1h6.6h3h4h2.7h5.4h5.8h2.6h4.9h5.3h4h4.7h3h4.7h3.2h.3h5.7h3.7h2.7h5.4h3.4h2.3h1.8h3M222.6 454.8h.3h.4h.3h0h.4h.2h.2h.2h.3h.3h.1h.5h.7h.5h.3h.7h.4h.8h0h.4h1.3h.6h.1h.4h.3h.8h.6h.2h.3h.2h.1h.3h1.3h.3h1h2.2h2.1h2.1h.3h3.7h1.2h5h5.3h3.6h2.3h4.3h6h.3h4.5h2.4h7.9h5.4h3h3.3h5.5h13.2h5.7h3.2h3.8h3.9h.4h1.6h6.7h2.8h6h5.3h6.4h3.4h6.2h3.7h6.2h3.2h8.2h1.6h2.8h.3h6.3h2.3h7.2h0h3.8h2.4h.3h1.8h2h3.8h5.3h3.6h4.1h1.8h.3h3h.1h2.9h.2h3.6h1.1M222.8 457.9h.4h.4h.3h0h.8h.4h.2h.2h.2h.4h.6h.3h.2h0h.4h.3h.6h.2h.2h.6h0h.6h.2h.3h.5h1h.2h.5h.7h1.1h1.1h1.3h.3h1.8h1.7h4.6h.3h4.4h6.9h5.5h4.3h0h4.6h4.2h4.1h2.3h2.6h1.4h3.3h4.4h4.2h4h5.2h1.9h7.3h3.2h5.4h3.9h4h.3h2.8h3.3h3.7h2.3h4.4h4.6h2.7h2.9h5.8h6.5h.1h5.4h4.7h3h.1h5.1h1.6h.2h4.4h5.4h4.2h5.9h4h2.3h3.2h2.8h3.3h.9h6.6h.3h2.8h.2h3.1h4.2h2.2h3.1h.3h3.2h.2h2.1M222.9 461h.3h.4h.2h.1h.7h.5h.3h.4h.3h.4h.2h.3h.1h.2h.4h.3h.2h.3h.3h.5h.2h.1h.2h.1h.4h.2h.3h.5h.2h.6h.1h.6h1.2h2.2h.4h3h.3h2.7h1.4h.2h2.5h.2h1.6h2.1h2.9h5.9h.3h1.4h3.2h3.3h2.8h1.9h4.5h.2h3.1h6.6h3.5h.4h3.9h2.7h4.4h.1h4.8h2.3h6.2h2.4h3.4h2.7h4.6h2.1h.2h4.5h4.8h3.1h.2h2.2h6h2.7h3.9h.9h2.5h5.8h3.6h2.8h5.6h1.7h1.6h.1h2.5h2.8h4.4h5.9h3.6h5.2h4.4h3.3h3.5h.1h3.4h2.5h.3h2.7h3h.2h1.3h3.8h.2h2.2h1.7h2.7h1.7h3.7h.1h3.2h.2h2.3h.1h4M222.6 464h.6h.7h.2h.7h.2h.2h.4h.3h.3h0h.1h.2h.1h.4h.4h.2h.2h.1h.4h.7h.6h1.1h1.6h.4h0h1.2h0h1.5h1.1h1.1h1.7h.1h2.3h.1h2h.3h1.5h.4h4.7h2.2h.3h2.7h2.2h.3h3.5h4.3h4.1h3.8h.2h3.3h2.6h.3h5h0h1.7h.2h6.4h3.3h2.6h.3h2.3h1.9h3.7h2.5h3h2.7h2.2h4.7h2.2h3.5h4.2h5.3h3.1h.1h5h3.3h0h1.7h3.1h2.2h7.1h1.8h2.5h.3h2.2h4.5h4.9h2.6h0h7.7h2.7h2.7h.3h3h5.1h.2h2.2h4.2h5.1h2.3h4.4h1.3h.4h5.5h0h3.5h.3h3.8h3.4h4.8h3.3h.1h3h.3h2h2.7M222.5 467.1h.1h.4h.3h.3h.2h.2h.5h.2h.2h.3h.4h.1h.3h.6h.4h.5h0h.4h.2h.3h.3h.3h.1h.7h.6h.9h.1h1.2h.1h1.1h1.6h0h1.1h2.4h1.2h1.6h2.1h1.8h3.3h.1h2.4h2.5h7.3h2.4h1.5h0h4.4h0h3h.1h2.9h.3h.3h.4h2.4h2.4h5.7h.2h7.8h1.8h4h.4h7.3h0h5.6h2.8h3.7h4.1h.2h5.1h0h1.8h2.5h.1h4h2.8h5h.3h4.5h4.4h3.1h2.8h1.9h2.2h2.6h.1h1.9h7.7h4.3h3h8.9h3h4.3h3.4h5h.3h4.4h2.2h3.8h.3h1h0h3h5.2h1.8h2.3h3h3.3h.3h2.7h.2h3h2.1h.3h4h.1h3.6M222.7 470.2h.7h.2h.1h.1h.6h0h0h.4h.5h.2h.2h1h.4h0h1h.2h1h.3h0h.1h.1h.6h.5h.3h.8h.7h.3h.2h1.5h.4h.8h1h2.6h2.3h3.3h1.6h2h.1h2.7h1.3h3.9h1.9h1.9h1h1.7h2.9h.3h2h.1h4.1h.2h1.6h.3h1.6h2.1h4.1h.1h5h1.3h.1h3.6h.1h2.1h.2h2.2h2h5.9h3.5h.2h3.7h.3h2.9h.1h2.8h4.2h.8h2.7h3.2h2.7h.3h2.4h.2h3h1.8h.3h3.8h5.3h.1h3.8h3h2.8h4.7h2.1h.1h2.3h1.4h.2h2.9h3.4h5h2h.1h2.3h.1h3.6h2.9h.3h3.4h.1h2.4h1.5h.3h3.3h1.2h2.4h1h.1h3.2h4.4h1.6h.3h1.8h0h4.6h.1h2.1h.3h3.5h2.3h3.1h2.7h1.2h.3h1.6h2.5h0h1.8h.2h2.4h3.7h3.8h.1h1.6h0M222.8 473.3h0h.5h.3h.3h.5h.5h0h.4h.2h.1h.1h.2h.2h.5h.3h.2h0h.2h.8h.4h0h.4h.4h.1h.2h.4h.5h.7h.1h.5h1.3h.6h.6h1.3h1.8h.3h.3h.3h2h1.8h0h1.8h.2h2.6h0h1.5h.4h3.2h0h1.6h1.8h3.9h.6h.4h1.5h0h1.8h.2h2.8h2.7h1.8h4h3.3h2.5h6.2h2.4h.2h2.6h.3h1.6h1.3h.3h2.8h.9h.7h4.9h3.5h.1h1.6h3.6h.2h2.8h3.2h2.7h5h4.1h.1h1.7h3.6h.3h3h4.3h4.5h1.8h3.6h.2h6.5h2h4.8h.1h.9h0h1.7h4.8h1.7h2.8h.3h2.1h3.8h.2h2.6h.4h2.7h.1h1.5h2.7h2.2h4.8h2.5h1.8h2.5h2.8h.9h.4h.3h.1h3.2h2h2.5h2.2h2.5h.2h1.5h.1h1.1h.1h1.8h0h2.3h.4h5.6h1.2h.4h2.3h.2h2.3h.4h3.9h2.3h.2h3.2M222.7 476.3h.2h.2h.3h.6h.1h.4h.6h.1h.2h.4h.3h.1h.1h.1h.3h.6h.1h.2h.3h.2h.1h.3h.5h.4h.7h.1h.9h.2h.9h1.6h1.7h1.7h3.3h.3h.6h1.5h.4h1.1h1.9h.4h1.2h2.2h1.4h0h4.7h3.9h0h3.6h3.6h.1h1.7h.3h3.2h3.9h3.2h2.3h.1h2.6h3.2h2.7h1.3h2.3h2.3h.2h2.5h.4h2.9h2.1h.2h3.4h1.1h.1h1.7h.2h2.7h2.4h2.3h2.8h.2h2.6h1.3h.2h3.4h5.1h.3h1.8h0h2.3h3h.1h1.1h2.8h2.5h0h3.4h.3h3.7h.9h3h3.4h.3h1.5h2.5h4.4h4.2h1.5h.2h3h.2h3.9h2.5h.1h1.7h.3h2.9h.4h3h0h2.9h.3h.8h.2h1.4h4.2h0h5.4h.4h.5h3.2h.2h2.1h1.8h.2h3.1h.1h2.1h.1h3.3h0h1.4h1.3h.4h.9h2h.2h1.9h2h2.5h3.2h.1h1.6h4.7h.1h1.8h3.8h2.8h0M222.7 479.4h.8h.3h.1h0h.1h.1h.6h.3h.2h0h.2h.2h.1h.1h.4h.6h.1h.3h.4h.2h.3h.1h.2h.1h.4h.3h.4h.3h.2h0h.7h.2h.2h.4h1.1h.3h.2h.2h.2h1.4h2h.9h1h.2h2.3h2h.6h2.1h1.9h3h2.4h1.4h.1h1.5h2.6h.4h1.5h.1h3.1h3.9h1.1h1.7h.3h2.3h.1h3.3h.3h3.1h.1h2.2h1.6h.4h3.2h4.1h5.4h3.6h1.5h.3h1.1h.2h3.5h2.9h3.8h4h.4h2.9h.2h1.5h.4h3.4h3.4h0h2h.3h1.4h.1h5.2h3.2h.1h1.2h3.2h.1h4h1h0h2.7h.4h2.1h.4h2.9h0h4.3h3.9h0h3.5h3.7h.3h1.8h1.2h0h1.8h.1h3.9h.4h4.4h.3h3.5h2h2.4h.2h2.2h3h.4h1.8h.4h1.5h3.2h.2h2.4h.2h.7h.4h1.3h2.2h0h1.3h.3h4.4h2.3h2.9h2.6h3.8h.1h3.2h2.3h3.6h.1h.4h.3h2.1h2h3.2h.7h.1h4" fill="none" stroke="none" clip-path="url(#kC)" marker-start="url(#c)" marker-mid="url(#c)" marker-end="url(#c)"/>
<path d="M222.50 282.50V482.50H470.50V282.50" fill="none" stroke="#4a4a4a" stroke-width="1"/>
<path d="M222.50 482.50v-3.2 M260.65 482.50v-3.2 M298.81 482.50v-3.2 M336.96 482.50v-3.2 M375.12 482.50v-3.2 M413.27 482.50v-3.2 M451.42 482.50v-3.2 M241.58 482.50v-1.8 M279.73 482.50v-1.8 M317.88 482.50v-1.8 M356.04 482.50v-1.8 M394.19 482.50v-1.8 M432.35 482.50v-1.8 M470.50 482.50v-1.8 M222.50 482.50h3.5 M222.50 449.17h3.5 M222.50 415.83h3.5 M222.50 382.50h3.5 M222.50 349.17h3.5 M222.50 315.83h3.5 M222.50 282.50h3.5 M222.50 465.83h2 M222.50 432.50h2 M222.50 399.17h2 M222.50 365.83h2 M222.50 332.50h2 M222.50 299.17h2 M470.50 467.12h-3.5 M470.50 436.35h-3.5 M470.50 405.58h-3.5 M470.50 374.81h-3.5 M470.50 344.04h-3.5 M470.50 313.27h-3.5 M470.50 282.50h-3.5 M470.50 482.50h-2 M470.50 451.73h-2 M470.50 420.96h-2 M470.50 390.19h-2 M470.50 359.42h-2 M470.50 328.65h-2 M470.50 297.88h-2" fill="none" stroke="#4a4a4a" stroke-width="1"/>
<g font-size="10.2"><text x="222.50" y="495.80" text-anchor="middle">0</text><text x="260.65" y="495.80" text-anchor="middle">2</text><text x="298.81" y="495.80" text-anchor="middle">4</text><text x="336.96" y="495.80" text-anchor="middle">6</text><text x="375.12" y="495.80" text-anchor="middle">8</text><text x="413.27" y="495.80" text-anchor="middle">10</text><text x="451.42" y="495.80" text-anchor="middle">12</text><text x="218.10" y="486.02" text-anchor="end">0.86</text><text x="218.10" y="452.69" text-anchor="end">0.88</text><text x="218.10" y="419.35" text-anchor="end">0.90</text><text x="218.10" y="386.02" text-anchor="end">0.92</text><text x="218.10" y="352.69" text-anchor="end">0.94</text><text x="218.10" y="319.35" text-anchor="end">0.96</text><text x="218.10" y="286.02" text-anchor="end">0.98</text><text x="474.90" y="470.63">40</text><text x="474.90" y="439.87">50</text><text x="474.90" y="409.10">60</text><text x="474.90" y="378.33">70</text><text x="474.90" y="347.56">80</text><text x="474.90" y="316.79">90</text><text x="474.90" y="286.02">100</text></g>
<polyline points="34.0,153.3 53.0,153.3 61.7,150.4 70.5,146.4 77.8,142.3 88.0,136.5 99.7,131.8 109.9,129.2 121.6,126.3 130.0,125.0 138.8,122.3 147.5,117.1 156.3,110.1 165.0,105.7 179.0,100.4 191.3,94.3 203.6,89.9 210.6,82.9 221.1,69.8 231.0,57.3" fill="none" stroke="#1a1a1a" stroke-width="1.25" stroke-linejoin="round"/>
<polyline points="409.9,155.5 417.5,145.7 426.3,138.7 435.0,133.4 449.0,129.9 461.3,127.3 478.8,125.5 496.4,124.1 510.0,122.3 542.8,120.1 575.7,115.5 597.6,111.7 623.9,108.5 628.8,104.0 637.0,23.5" fill="none" stroke="#1a1a1a" stroke-width="1.25" stroke-linejoin="round"/>
<polyline points="222.9,470.0 223.0,400.0 223.0,368.2 224.0,357.6 226.0,352.3 229.9,347.7 235.2,343.7 244.4,339.1 257.7,334.9 270.9,331.8 290.0,328.8 316.3,325.1 342.6,322.5 368.8,320.4 401.3,318.5 427.6,317.3 457.8,316.4" fill="none" stroke="#1a1a1a" stroke-width="1.5" stroke-linejoin="round"/>
<path d="M45.9 32.4H68.6" stroke="#222" stroke-width="1.2"/>
<circle cx="57.3" cy="44.8" r="1.75" fill="none" stroke="#0000ff" stroke-opacity=".55" stroke-width="0.8"/>
<text x="73.5" y="34.7" font-size="11.7">axial strain</text>
<text x="73.5" y="46.3" font-size="11.7">amplitude</text>
<path d="M414.5 17.4H438.6" stroke="#222" stroke-width="1.2"/>
<circle cx="426.2" cy="30.6" r="1.75" fill="none" stroke="#0000ff" stroke-opacity=".55" stroke-width="0.8"/>
<text x="444.4" y="20.3" font-size="12.4">axial strain</text>
<text x="444.4" y="32.7" font-size="12.4">amplitude</text>
<path d="M233.0 295.4H256.8" stroke="#222" stroke-width="1.2"/>
<circle cx="245.4" cy="308.1" r="1.75" fill="none" stroke="#0000ff" stroke-opacity=".55" stroke-width="0.8"/>
<text x="262.2" y="297.6" font-size="12.07">axial strain</text>
<text x="262.2" y="310.4" font-size="12.07">amplitude</text>
<text x="156.5" y="232.7" text-anchor="middle" font-size="11.5">time/h</text>
<text transform="translate(10.6 123.5) rotate(-90)" text-anchor="middle" font-size="11.5">axial strain/10<tspan dy="-4.37" font-size="7.13">-2</tspan></text>
<text transform="translate(297.4 123.8) rotate(-90)" text-anchor="middle" font-size="11.5">amplitude/dB</text>
<text x="133.6" y="251.8" text-anchor="middle" class="pl" font-size="16.5">(a)</text>
<text x="530.3" y="233.6" text-anchor="middle" font-size="12.2">time/h</text>
<text transform="translate(378.5 116.5) rotate(-90)" text-anchor="middle" font-size="12.2">axial strain/10<tspan dy="-4.64" font-size="7.56">-2</tspan></text>
<text transform="translate(682.9 117) rotate(-90)" text-anchor="middle" font-size="12.2">amplitude/dB</text>
<text x="534.9" y="251.9" text-anchor="middle" class="pl" font-size="16.5">(b)</text>
<text x="337.7" y="504.8" text-anchor="middle" font-size="12.0">time/h</text>
<text transform="translate(197 391.2) rotate(-90)" text-anchor="middle" font-size="12.0">axial strain/10<tspan dy="-4.56" font-size="7.44">-2</tspan></text>
<text transform="translate(497.9 392.4) rotate(-90)" text-anchor="middle" font-size="12.0">amplitude/dB</text>
<text x="342.8" y="525.2" text-anchor="middle" class="pl" font-size="16.5">(c)</text>
</svg></body></html>
